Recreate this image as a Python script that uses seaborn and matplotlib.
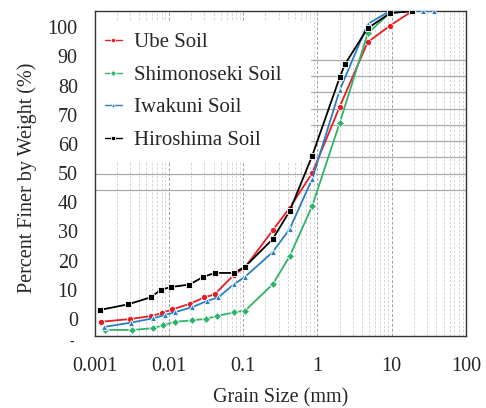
import numpy as np
import pandas as pd
import matplotlib
matplotlib.use("Agg")
import matplotlib.pyplot as plt
import seaborn as sns

# ---- data (grain size in mm, percent finer in %) ----
ube_size = [0.00124, 0.00298, 0.00583, 0.00813, 0.0112, 0.0191, 0.0301, 0.0414,
            0.075, 0.106, 0.25, 0.425, 0.85, 2.0, 4.75, 9.5, 19.0]
ube_pct = [4.4, 5.2, 6.15, 7.1, 8.2, 9.9, 11.9, 12.8,
           18.8, 21.1, 32.5, 39.5, 50.1, 70.6, 90.4, 95.5, 100.0]

shimo_size = [0.00139, 0.00317, 0.00615, 0.00837, 0.0122, 0.0207, 0.032, 0.045,
              0.075, 0.106, 0.25, 0.425, 0.85, 2.0, 4.75, 9.5, 19.0]
shimo_pct = [1.9, 1.85, 2.4, 3.3, 4.4, 4.8, 5.3, 6.15,
             7.3, 7.75, 15.9, 24.6, 40.0, 65.6, 93.1, 99.5, 100.0]

iwa_size = [0.00135, 0.00308, 0.00615, 0.0089, 0.012, 0.0207, 0.033, 0.0464,
            0.075, 0.106, 0.25, 0.425, 0.85, 2.0, 4.75, 9.5, 19.0, 26.5, 37.5]
iwa_pct = [2.8, 4.1, 5.45, 6.5, 7.3, 8.9, 10.8, 11.9,
           15.9, 18.2, 25.8, 33.0, 48.3, 75.7, 96.0, 100.0, 100.0, 100.0, 100.0]

hiro_size = [0.00118, 0.00284, 0.00571, 0.00778, 0.0108, 0.0188, 0.0292, 0.0414,
             0.075, 0.106, 0.25, 0.425, 0.85, 2.0, 2.36, 4.75, 9.5, 19.0]
hiro_pct = [8.0, 9.75, 11.9, 14.2, 15.1, 15.8, 18.2, 19.4,
            19.4, 21.3, 29.8, 38.5, 55.4, 79.6, 83.7, 94.7, 99.3, 100.0]

soil_names = ["Ube Soil", "Shimonoseki Soil", "Iwakuni Soil", "Hiroshima Soil"]
y_tick_labels = ["0", "10", "20", "30", "40", "50", "60", "70", "80", "90", "100"]
x_tick_labels = ["0.001", "0.01", "0.1", "1", "10", "100"]

frames = []
for name, xs, ys in zip(soil_names,
                        [ube_size, shimo_size, iwa_size, hiro_size],
                        [ube_pct, shimo_pct, iwa_pct, hiro_pct]):
    frames.append(pd.DataFrame({"size": xs, "pct": ys, "soil": name}))
df = pd.concat(frames, ignore_index=True)

palette = {"Ube Soil": "#e81c24", "Shimonoseki Soil": "#2fb36a",
           "Iwakuni Soil": "#2a7fc4", "Hiroshima Soil": "#000000"}
markers = {"Ube Soil": "o", "Shimonoseki Soil": "D",
           "Iwakuni Soil": "^", "Hiroshima Soil": "s"}

sns.set_style("white")
plt.rcParams["font.family"] = ["Liberation Serif", "DejaVu Serif"]

fig = plt.figure(figsize=(4.86, 4.08), dpi=100)
ax = fig.add_axes([94.5 / 486, 1 - 336 / 408, (466 - 94.5) / 486, (336 - 11) / 408])

sns.lineplot(data=df, x="size", y="pct", hue="soil", style="soil",
             hue_order=soil_names, style_order=soil_names,
             palette=palette, markers=markers, dashes=False,
             estimator=None, sort=False, lw=1.3, markersize=4.5,
             markeredgewidth=0.6, ax=ax, zorder=3)

ax.set_xscale("log")
ax.set_xlim(0.001, 100)
ax.set_ylim(0, 100)

ax.set_xticks([0.001, 0.01, 0.1, 1, 10, 100])
ax.set_xticklabels(x_tick_labels, fontsize=14.5)
ax.tick_params(axis="x", which="both", length=0, pad=15)

# horizontal grid lines (only a band is visible in the reference)
ax.set_yticks(np.arange(45, 90, 5))
ax.tick_params(axis="y", which="both", length=0, labelleft=False)
ax.grid(axis="y", which="major", color="#aaaaaa", lw=0.9, ls="-")
ax.grid(axis="x", which="major", color="#a0a0a0", lw=0.7, ls=(0, (3, 2)))
ax.grid(axis="x", which="minor", color="#cdcdcd", lw=0.6, ls=(0, (3, 2)))
ax.set_axisbelow(True)

# value labels on the left (shifted scale as in the reference)
sec = ax.secondary_yaxis("left", functions=(lambda p: (p - 5.23) / 0.898,
                                            lambda v: 5.23 + 0.898 * v))
sec.set_yticks(np.arange(0, 101, 10))
sec.set_yticklabels(y_tick_labels, fontsize=14.5)
sec.tick_params(length=0, pad=12)
sec.spines["left"].set_visible(False)

for s in ax.spines.values():
    s.set_color("#333333")
    s.set_linewidth(1.0)

ax.set_xlabel("Grain Size (mm)", fontsize=14.5, labelpad=9)
ax.set_ylabel("")
fig.text(27 / 486, 1 - 178 / 408, "Percent Finer by Weight (%)", rotation=90,
         fontsize=14.5, ha="center", va="center")
fig.text(72 / 486, 1 - 342 / 408, "-", fontsize=10, ha="center", va="center")

leg = ax.legend(loc="upper left", bbox_to_anchor=(0.0, 0.55, 0.58, 0.415),
                mode="expand", frameon=True, fancybox=False, framealpha=1,
                facecolor="white", edgecolor="white", fontsize=15,
                handlelength=0.8, handletextpad=0.6, labelspacing=0.62,
                borderaxespad=0.0, borderpad=0.5, markerscale=0.7)
leg.set_zorder(2)
for h in leg.get_lines():
    h.set_linewidth(1.0)

fig.savefig("out.png", dpi=100)
